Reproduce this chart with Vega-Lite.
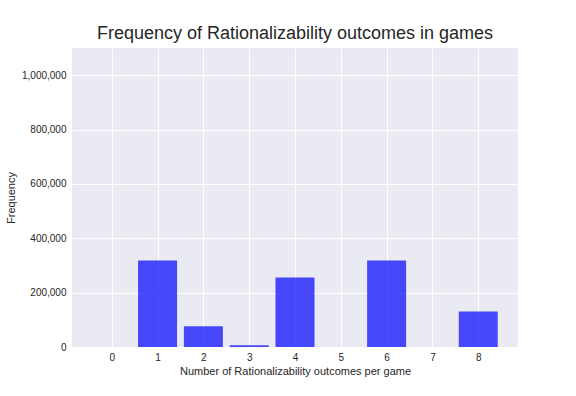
{
  "$schema": "https://vega.github.io/schema/vega-lite/v6.json",
  "width": 446,
  "height": 299,
  "autosize": "none",
  "padding": {"left": 72, "top": 48, "right": 58, "bottom": 49},
  "background": "white",
  "title": {"text": "Frequency of Rationalizability outcomes in games", "font": "Liberation Sans", "fontSize": 18, "fontWeight": "normal", "color": "#262626", "offset": 5, "anchor": "middle"},
  "config": {
    "view": {"fill": "#EAEAF2", "stroke": null},
    "axis": {"labelFont": "Liberation Sans", "titleFont": "Liberation Sans", "labelColor": "#262626", "titleColor": "#262626", "labelFontSize": 10, "titleFontSize": 11, "titleFontWeight": "normal", "gridColor": "white", "gridWidth": 1, "gridOpacity": 1, "domain": false, "ticks": false}
  },
  "data": {"values": [
    {"n": 0, "count": 0},
    {"n": 1, "count": 318500},
    {"n": 2, "count": 76000},
    {"n": 3, "count": 6000},
    {"n": 4, "count": 256000},
    {"n": 5, "count": 0},
    {"n": 6, "count": 318500},
    {"n": 7, "count": 0},
    {"n": 8, "count": 131000}
  ]},
  "mark": {"type": "bar", "color": "#0000ff", "opacity": 0.7, "size": 39},
  "encoding": {
    "x": {"field": "n", "type": "quantitative", "scale": {"domain": [-0.8675, 8.8675], "nice": false, "zero": false, "padding": 0}, "axis": {"values": [0,1,2,3,4,5,6,7,8], "format": "d", "labelPadding": 5, "titlePadding": 3, "title": "Number of Rationalizability outcomes per game"}},
    "y": {"field": "count", "type": "quantitative", "scale": {"domain": [0, 1100000], "nice": false, "padding": 0}, "axis": {"values": [0,200000,400000,600000,800000,1000000], "format": ",d", "labelPadding": 6, "titlePadding": 5, "title": "Frequency"}}
  }
}
